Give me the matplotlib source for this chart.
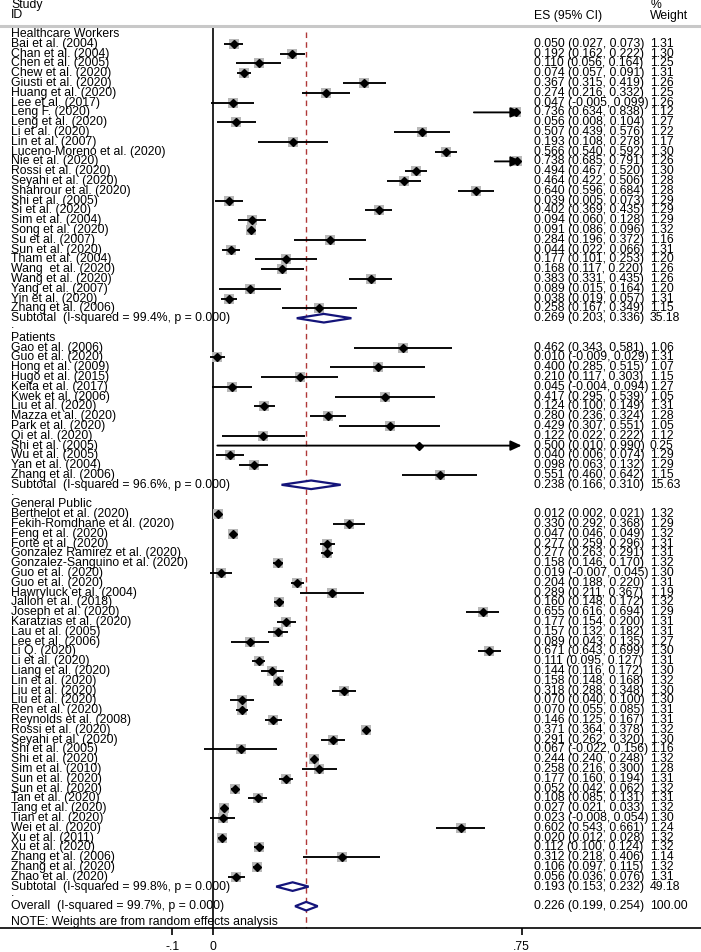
import matplotlib
matplotlib.use('Agg')
import matplotlib.pyplot as plt
from matplotlib.patches import Polygon
import numpy as np

plt.rcParams['font.family'] = ['Liberation Sans', 'DejaVu Sans']

# ---------------- data ----------------
hcw_names = ["Bai et al. (2004)", "Chan et al. (2004)", "Chen et al. (2005)", "Chew et al. (2020)",
             "Giusti et al. (2020)", "Huang et al. (2020)", "Lee et al. (2017)", "Leng F. (2020)",
             "Leng et al. (2020)", "Li et al. (2020)", "Lin et al. (2007)", "Luceno-Moreno et al. (2020)",
             "Nie et al. (2020)", "Rossi et al. (2020)", "Seyahi et al. (2020)", "Shahrour et al. (2020)",
             "Shi et al. (2005)", "Si et al. (2020)", "Sim et al. (2004)", "Song et al. (2020)",
             "Su et al. (2007)", "Sun et al. (2020)", "Tham et al. (2004)", "Wang  et al. (2020)",
             "Wang et al. (2020)", "Yang et al. (2007)", "Yin et al. (2020)", "Zhang et al. (2006)"]
hcw_es = [0.050, 0.192, 0.110, 0.074, 0.367, 0.274, 0.047, 0.736, 0.056, 0.507, 0.193, 0.566, 0.738, 0.494,
          0.464, 0.640, 0.039, 0.402, 0.094, 0.091, 0.284, 0.044, 0.177, 0.168, 0.383, 0.089, 0.038, 0.258]
hcw_lo = [0.027, 0.162, 0.056, 0.057, 0.315, 0.216, -0.005, 0.634, 0.008, 0.439, 0.108, 0.540, 0.685, 0.467,
          0.422, 0.596, 0.005, 0.369, 0.060, 0.086, 0.196, 0.022, 0.101, 0.117, 0.331, 0.015, 0.019, 0.167]
hcw_hi = [0.073, 0.222, 0.164, 0.091, 0.419, 0.332, 0.099, 0.838, 0.104, 0.576, 0.278, 0.592, 0.791, 0.520,
          0.506, 0.684, 0.073, 0.435, 0.128, 0.096, 0.372, 0.066, 0.253, 0.220, 0.435, 0.164, 0.057, 0.349]
hcw_w = [1.31, 1.30, 1.25, 1.31, 1.26, 1.25, 1.26, 1.12, 1.27, 1.22, 1.17, 1.30, 1.26, 1.30,
         1.28, 1.28, 1.29, 1.29, 1.29, 1.32, 1.16, 1.31, 1.20, 1.26, 1.26, 1.20, 1.31, 1.15]
hcw_sub = ("Subtotal  (I-squared = 99.4%, p = 0.000)", 0.269, 0.203, 0.336, 35.18)

pat_names = ["Gao et al. (2006)", "Guo et al. (2020)", "Hong et al. (2009)", "Hugo et al. (2015)",
             "Keita et al. (2017)", "Kwek et al. (2006)", "Liu et al. (2020)", "Mazza et al. (2020)",
             "Park et al. (2020)", "Qi et al. (2020)", "Shi et al. (2005)", "Wu et al. (2005)",
             "Yan et al. (2004)", "Zhang et al. (2006)"]
pat_es = [0.462, 0.010, 0.400, 0.210, 0.045, 0.417, 0.124, 0.280, 0.429, 0.122, 0.500, 0.040, 0.098, 0.551]
pat_lo = [0.343, -0.009, 0.285, 0.117, -0.004, 0.295, 0.100, 0.236, 0.307, 0.022, 0.010, 0.006, 0.063, 0.460]
pat_hi = [0.581, 0.029, 0.515, 0.303, 0.094, 0.539, 0.149, 0.324, 0.551, 0.222, 0.990, 0.074, 0.132, 0.642]
pat_w = [1.06, 1.31, 1.07, 1.15, 1.27, 1.05, 1.31, 1.28, 1.05, 1.12, 0.25, 1.29, 1.29, 1.15]
pat_sub = ("Subtotal  (I-squared = 96.6%, p = 0.000)", 0.238, 0.166, 0.310, 15.63)

gp_names = ["Berthelot et al. (2020)", "Fekih-Romdhane et al. (2020)", "Feng et al. (2020)", "Forte et al. (2020)",
            "Gonzalez Ramirez et al. (2020)", "Gonzalez-Sanguino et al. (2020)", "Guo et al. (2020)",
            "Guo et al. (2020)", "Hawryluck et al. (2004)", "Jalloh et al. (2018)", "Joseph et al. (2020)",
            "Karatzias et al. (2020)", "Lau et al. (2005)", "Lee et al. (2006)", "Li Q. (2020)", "Li et al. (2020)",
            "Liang et al. (2020)", "Lin et al. (2020)", "Liu et al. (2020)", "Liu et al. (2020)", "Ren et al. (2020)",
            "Reynolds et al. (2008)", "Rossi et al. (2020)", "Seyahi et al. (2020)", "Shi et al. (2005)",
            "Shi et al. (2020)", "Sim et al. (2010)", "Sun et al. (2020)", "Sun et al. (2020)", "Tan et al. (2020)",
            "Tang et al. (2020)", "Tian et al. (2020)", "Wei et al. (2020)", "Xu et al. (2011)", "Xu et al. (2020)",
            "Zhang et al. (2006)", "Zhang et al. (2020)", "Zhao et al. (2020)"]
gp_es = [0.012, 0.330, 0.047, 0.277, 0.277, 0.158, 0.019, 0.204, 0.289, 0.160, 0.655, 0.177, 0.157, 0.089,
         0.671, 0.111, 0.144, 0.158, 0.318, 0.070, 0.070, 0.146, 0.371, 0.291, 0.067, 0.244, 0.258, 0.177,
         0.052, 0.108, 0.027, 0.023, 0.602, 0.020, 0.112, 0.312, 0.106, 0.056]
gp_lo = [0.002, 0.292, 0.046, 0.259, 0.263, 0.146, -0.007, 0.188, 0.211, 0.148, 0.616, 0.154, 0.132, 0.043,
         0.643, 0.095, 0.116, 0.148, 0.288, 0.040, 0.055, 0.125, 0.364, 0.262, -0.022, 0.240, 0.216, 0.160,
         0.042, 0.085, 0.021, -0.008, 0.543, 0.012, 0.100, 0.218, 0.097, 0.036]
gp_hi = [0.021, 0.368, 0.049, 0.296, 0.291, 0.170, 0.045, 0.220, 0.367, 0.172, 0.694, 0.200, 0.182, 0.135,
         0.699, 0.127, 0.172, 0.168, 0.348, 0.100, 0.085, 0.167, 0.378, 0.320, 0.156, 0.248, 0.300, 0.194,
         0.062, 0.131, 0.033, 0.054, 0.661, 0.028, 0.124, 0.406, 0.115, 0.076]
gp_w = [1.32, 1.29, 1.32, 1.31, 1.31, 1.32, 1.30, 1.31, 1.19, 1.32, 1.29, 1.31, 1.31, 1.27, 1.30, 1.31,
        1.30, 1.32, 1.30, 1.30, 1.31, 1.31, 1.32, 1.30, 1.16, 1.32, 1.28, 1.31, 1.32, 1.31, 1.32, 1.30,
        1.24, 1.32, 1.32, 1.14, 1.32, 1.31]
gp_sub = ("Subtotal  (I-squared = 99.8%, p = 0.000)", 0.193, 0.153, 0.232, 49.18)

overall = ("Overall  (I-squared = 99.7%, p = 0.000)", 0.226, 0.199, 0.254, 100.00)
group_labels = ["Healthcare Workers", "Patients", "General Public"]
tick_vals = [-0.1, 0, 0.75]
tick_labels = ["-.1", "0", ".75"]
note = "NOTE: Weights are from random effects analysis"

# ---------------- layout ----------------
W, H = 701, 952
X0 = 213.3          # pixel of x = 0
PX = 411.0          # pixels per unit
XMAX = 0.75
FS = 8.8
fig = plt.figure(figsize=(W / 100, H / 100), dpi=100)
ax = fig.add_axes([0, 0, 1, 1])
ax.set_xlim(-X0 / PX, (W - X0) / PX)
ax.set_ylim(H, 0)

def px2x(p):
    return (p - X0) / PX

NAME_X, ES_X, WT_X = px2x(11), px2x(534), px2x(650)
ROW0, DY = 34.0, 9.8
def row_y(i):
    return ROW0 + DY * i

def txt(x, y, s, **kw):
    ax.text(x, y, s, fontsize=FS, va='center', ha='left', color='black', **kw)

BOX = '#b8b8b8'
NAVY = '#14147a'
LW = 1.35

def study(y, name, es, lo, hi, w):
    side_pt = 6.4 * np.sqrt(w)
    ax.scatter([es], [y], marker='s', s=side_pt ** 2, color=BOX, linewidths=0, zorder=2)
    if hi > XMAX:
        ax.annotate('', xy=(XMAX, y), xytext=(lo, y),
                    arrowprops=dict(arrowstyle='-|>,head_length=0.65,head_width=0.3',
                                    color='black', lw=LW, shrinkA=0, shrinkB=0, mutation_scale=10),
                    zorder=3)
    else:
        ax.plot([lo, hi], [y, y], color='black', lw=LW, solid_capstyle='butt', zorder=3)
    ax.plot([es], [y], marker='D', ms=3.8, color='black', zorder=4)
    txt(NAME_X, y, name)
    txt(ES_X, y, f"{es:.3f} ({lo:.3f}, {hi:.3f})")
    txt(WT_X, y, f"{w:.2f}")

def diamond(y, label, es, lo, hi, w):
    poly = Polygon([(lo, y), (es, y - 4.3), (hi, y), (es, y + 4.3)], closed=True,
                   facecolor='white', edgecolor=NAVY, lw=1.6, zorder=5)
    ax.add_patch(poly)
    txt(NAME_X, y, label)
    txt(ES_X, y, f"{es:.3f} ({lo:.3f}, {hi:.3f})")
    txt(WT_X, y, f"{w:.2f}")

groups = [
    (hcw_names, hcw_es, hcw_lo, hcw_hi, hcw_w, hcw_sub),
    (pat_names, pat_es, pat_lo, pat_hi, pat_w, pat_sub),
    (gp_names, gp_es, gp_lo, gp_hi, gp_w, gp_sub),
]

i = 0
for gi, (names, es, lo, hi, w, sub) in enumerate(groups):
    txt(NAME_X, row_y(i), group_labels[gi])
    i += 1
    for n, e, l, h, ww in zip(names, es, lo, hi, w):
        study(row_y(i), n, e, l, h, ww)
        i += 1
    diamond(row_y(i), *sub)
    i += 1
    txt(NAME_X, row_y(i) - 3, ".")
    i += 1

diamond(row_y(i), *overall)
txt(NAME_X, 922.5, note)

# reference lines
AXIS_Y = 928
ax.plot([0, 0], [26, AXIS_Y], color='black', lw=1.2, zorder=1)
ax.plot([overall[1], overall[1]], [32, AXIS_Y], color='#b03838', lw=1.0,
        linestyle=(0, (4, 3)), zorder=1)
ax.axhline(26, color='#c8c8c8', lw=2.2, zorder=1)

# header
txt(NAME_X, 5, "Study")
txt(NAME_X, 15, "ID")
txt(ES_X, 15.5, "ES (95% CI)")
txt(px2x(651), 4.5, "%")
txt(WT_X, 15.5, "Weight")

# x axis
for s in ['top', 'left', 'right']:
    ax.spines[s].set_visible(False)
ax.spines['bottom'].set_position(('data', AXIS_Y))
ax.spines['bottom'].set_linewidth(1.2)
ax.set_yticks([])
ax.set_xticks(tick_vals)
ax.set_xticklabels(tick_labels)
ax.tick_params(axis='x', direction='out', length=5, width=1.2, pad=4.5, labelsize=FS)

fig.savefig('out.png', dpi=100)
